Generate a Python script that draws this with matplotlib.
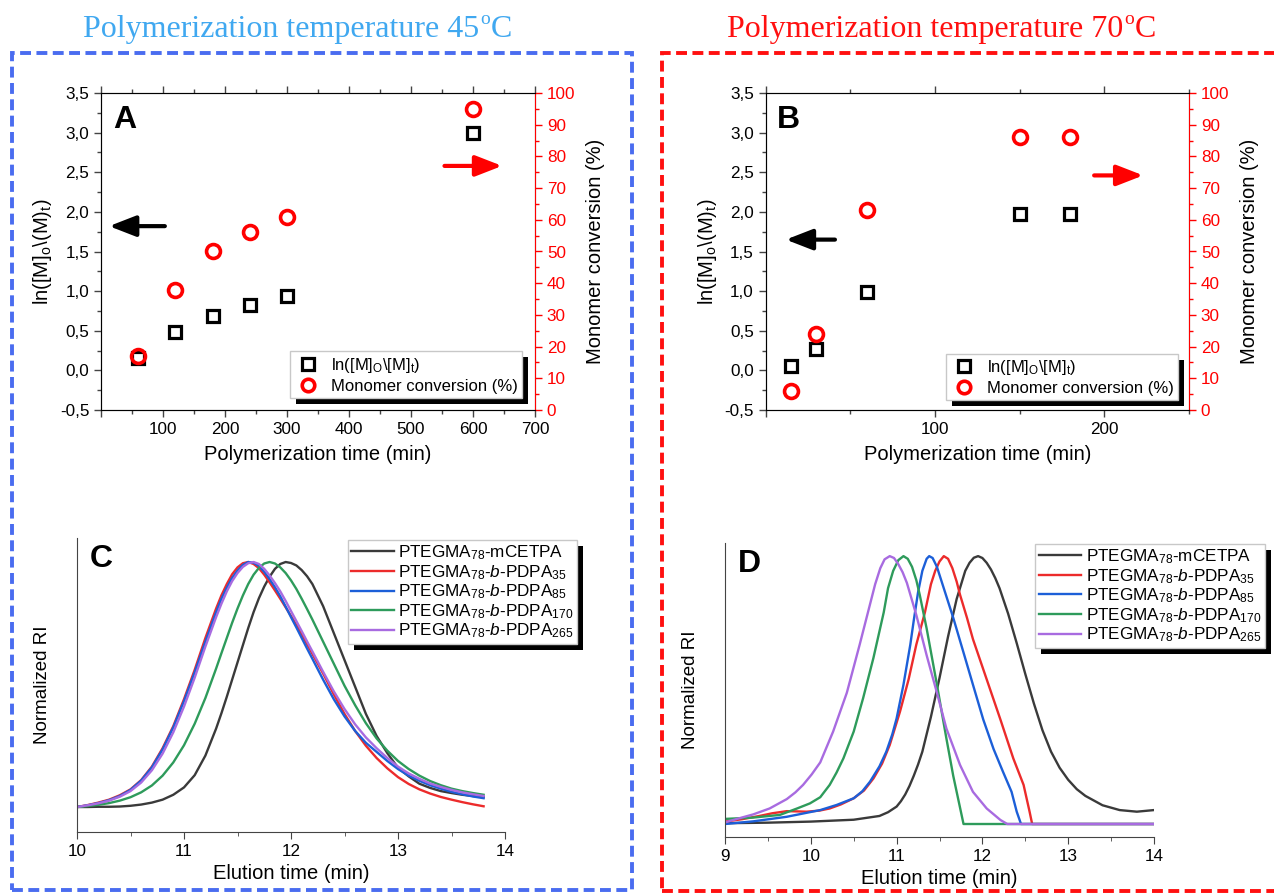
import matplotlib
matplotlib.use('Agg')
import matplotlib.pyplot as plt
from matplotlib.patches import Rectangle
from matplotlib.transforms import IdentityTransform
from matplotlib.ticker import MultipleLocator, FuncFormatter
from matplotlib.lines import Line2D

plt.rcParams['font.family'] = ['Liberation Sans', 'DejaVu Sans']
plt.rcParams['mathtext.fontset'] = 'custom'
plt.rcParams['mathtext.rm'] = 'Liberation Sans'
plt.rcParams['mathtext.it'] = 'Liberation Sans:italic'
plt.rcParams['mathtext.bf'] = 'Liberation Sans:bold'

# ---- panel A (45 C kinetics) ----
time_a = [60, 120, 180, 240, 300, 600]
ln_a = [0.15, 0.48, 0.69, 0.82, 0.94, 3.0]
conv_a = [17, 38, 50, 56, 61, 95]

# ---- panel B (70 C kinetics) ----
time_b = [15, 30, 60, 150, 180]
ln_b = [0.06, 0.27, 0.99, 1.97, 1.97]
conv_b = [6, 24, 63, 86, 86]

# ---- panel C (GPC traces, 45 C) ----
elu_c = [10.0, 10.1, 10.2, 10.3, 10.4, 10.5, 10.6, 10.7, 10.8, 10.9,
         11.0, 11.1, 11.2, 11.3, 11.35, 11.4, 11.45, 11.5, 11.55, 11.6,
         11.65, 11.7, 11.75, 11.8, 11.85, 11.9, 11.95, 12.0, 12.05, 12.1,
         12.15, 12.2, 12.3, 12.4, 12.5, 12.6, 12.7, 12.8, 12.9, 13.0,
         13.1, 13.2, 13.3, 13.4, 13.5, 13.6, 13.7, 13.8]
ri_c_macro = [0.000, 0.000, 0.001, 0.001, 0.002, 0.005, 0.010, 0.018, 0.030, 0.050,
              0.080, 0.130, 0.210, 0.320, 0.383, 0.450, 0.520, 0.590, 0.660, 0.730,
              0.795, 0.852, 0.900, 0.940, 0.972, 0.992, 1.000, 0.996, 0.986, 0.967,
              0.942, 0.910, 0.820, 0.710, 0.600, 0.490, 0.380, 0.290, 0.220, 0.160,
              0.125, 0.095, 0.078, 0.065, 0.057, 0.050, 0.045, 0.040]
ri_c_35 = [0.000, 0.008, 0.018, 0.030, 0.048, 0.072, 0.110, 0.165, 0.240, 0.330,
           0.440, 0.560, 0.690, 0.810, 0.864, 0.910, 0.950, 0.978, 0.995, 1.000,
           0.992, 0.975, 0.948, 0.917, 0.884, 0.850, 0.815, 0.780, 0.743, 0.705,
           0.665, 0.625, 0.545, 0.460, 0.380, 0.310, 0.250, 0.200, 0.158, 0.122,
           0.094, 0.072, 0.055, 0.041, 0.030, 0.020, 0.011, 0.003]
ri_c_85 = [0.000, 0.007, 0.016, 0.028, 0.045, 0.070, 0.108, 0.162, 0.235, 0.325,
           0.432, 0.550, 0.675, 0.795, 0.850, 0.895, 0.935, 0.965, 0.988, 1.000,
           0.997, 0.984, 0.960, 0.930, 0.897, 0.860, 0.818, 0.775, 0.733, 0.690,
           0.647, 0.605, 0.520, 0.440, 0.370, 0.310, 0.262, 0.225, 0.188, 0.155,
           0.128, 0.107, 0.089, 0.075, 0.062, 0.052, 0.043, 0.036]
ri_c_170 = [0.000, 0.004, 0.009, 0.016, 0.026, 0.040, 0.060, 0.088, 0.128, 0.182,
            0.252, 0.340, 0.445, 0.565, 0.628, 0.690, 0.752, 0.810, 0.863, 0.910,
            0.948, 0.976, 0.994, 1.000, 0.994, 0.978, 0.955, 0.925, 0.890, 0.850,
            0.808, 0.765, 0.675, 0.585, 0.495, 0.415, 0.342, 0.280, 0.230, 0.188,
            0.155, 0.128, 0.106, 0.089, 0.075, 0.065, 0.057, 0.050]
ri_c_265 = [0.000, 0.007, 0.015, 0.026, 0.042, 0.065, 0.100, 0.150, 0.218, 0.305,
            0.410, 0.528, 0.655, 0.775, 0.830, 0.880, 0.922, 0.955, 0.980, 0.995,
            1.000, 0.992, 0.972, 0.945, 0.914, 0.880, 0.841, 0.800, 0.759, 0.718,
            0.676, 0.635, 0.552, 0.472, 0.400, 0.337, 0.284, 0.240, 0.200, 0.165,
            0.137, 0.115, 0.096, 0.082, 0.070, 0.060, 0.052, 0.045]

# ---- panel D (GPC traces, 70 C) ----
elu_d_macro = [9.0, 9.5, 10.0, 10.5, 10.8, 10.9, 11.0, 11.05, 11.1, 11.15, 11.2,
               11.25, 11.3, 11.4, 11.5, 11.6, 11.7, 11.8, 11.85, 11.9, 11.95, 12.0,
               12.05, 12.1, 12.15, 12.2, 12.3, 12.4, 12.5, 12.6, 12.7, 12.8, 12.9,
               13.0, 13.1, 13.2, 13.4, 13.6, 13.8, 14.0]
ri_d_macro = [0.003, 0.005, 0.009, 0.016, 0.030, 0.044, 0.065, 0.085, 0.110, 0.142,
              0.180, 0.222, 0.270, 0.400, 0.545, 0.700, 0.840, 0.945, 0.975, 0.994,
              1.000, 0.993, 0.975, 0.950, 0.918, 0.880, 0.785, 0.675, 0.560, 0.450,
              0.350, 0.270, 0.210, 0.165, 0.130, 0.105, 0.070, 0.052, 0.046, 0.052]
elu_d_35 = [9.0, 9.2, 9.4, 9.55, 9.72, 9.85, 9.95, 10.1, 10.22, 10.35, 10.5, 10.62,
            10.73, 10.83, 10.92, 11.04, 11.14, 11.23, 11.33, 11.40, 11.45, 11.50,
            11.55, 11.60, 11.65, 11.70, 11.74, 11.82, 11.89, 12.05, 12.21, 12.36,
            12.48, 12.55, 12.58, 14.0]
ri_d_35 = [0.009, 0.018, 0.030, 0.040, 0.048, 0.047, 0.046, 0.050, 0.058, 0.073,
           0.096, 0.125, 0.170, 0.225, 0.295, 0.420, 0.540, 0.670, 0.790, 0.895,
           0.945, 0.980, 1.000, 0.990, 0.955, 0.905, 0.855, 0.770, 0.690, 0.540,
           0.390, 0.245, 0.146, 0.046, 0.0, 0.0]
elu_d_85 = [9.0, 9.33, 9.72, 10.11, 10.30, 10.50, 10.6, 10.69, 10.8, 10.88, 10.95,
            11.0, 11.08, 11.16, 11.2, 11.25, 11.3, 11.35, 11.38, 11.42, 11.47,
            11.54, 11.66, 11.78, 11.89, 12.01, 12.13, 12.24, 12.34, 12.40, 12.45,
            14.0]
ri_d_85 = [0.0, 0.010, 0.027, 0.052, 0.071, 0.096, 0.122, 0.158, 0.215, 0.270,
           0.335, 0.394, 0.520, 0.670, 0.760, 0.865, 0.945, 0.990, 1.000, 0.993,
           0.960, 0.890, 0.770, 0.640, 0.520, 0.390, 0.280, 0.195, 0.120, 0.046,
           0.0, 0.0]
elu_d_170 = [9.0, 9.33, 9.64, 9.84, 9.99, 10.11, 10.22, 10.3, 10.38, 10.50, 10.61,
             10.73, 10.85, 10.90, 10.96, 11.02, 11.08, 11.13, 11.18, 11.23, 11.27,
             11.35, 11.47, 11.58, 11.66, 11.78, 14.0]
ri_d_170 = [0.019, 0.024, 0.034, 0.058, 0.077, 0.100, 0.146, 0.192, 0.245, 0.345,
            0.470, 0.620, 0.790, 0.880, 0.945, 0.985, 1.000, 0.990, 0.960, 0.910,
            0.855, 0.730, 0.520, 0.320, 0.180, 0.0, 0.0]
elu_d_265 = [9.0, 9.15, 9.33, 9.52, 9.72, 9.82, 9.91, 10.01, 10.11, 10.26, 10.42,
             10.57, 10.69, 10.75, 10.81, 10.86, 10.92, 10.97, 11.02, 11.07, 11.12,
             11.23, 11.35, 11.47, 11.58, 11.74, 11.89, 12.05, 12.21, 12.29, 14.0]
ri_d_265 = [0.006, 0.020, 0.036, 0.058, 0.093, 0.118, 0.146, 0.185, 0.230, 0.345,
            0.490, 0.670, 0.820, 0.895, 0.955, 0.988, 1.000, 0.993, 0.970, 0.940,
            0.900, 0.780, 0.630, 0.490, 0.357, 0.220, 0.120, 0.058, 0.015, 0.0, 0.0]

gpc_labels = ['PTEGMA$_{78}$-mCETPA',
              'PTEGMA$_{78}$-$b$-PDPA$_{35}$',
              'PTEGMA$_{78}$-$b$-PDPA$_{85}$',
              'PTEGMA$_{78}$-$b$-PDPA$_{170}$',
              'PTEGMA$_{78}$-$b$-PDPA$_{265}$']
gpc_colors = ['#3a3a3a', '#ec2b2b', '#1c5fd8', '#2e9b5b', '#a86be0']

W, H = 1274, 893
fig = plt.figure(figsize=(W / 100, H / 100), dpi=100)


def px_axes(l, t, r, b):
    return fig.add_axes([l / W, (H - b) / H, (r - l) / W, (b - t) / H])


comma = FuncFormatter(lambda v, p: f'{v:.1f}'.replace('.', ','))
spine_grey = '#444444'
arrow_style = '-|>,head_length=0.9,head_width=0.35'


def kinetics_panel(ax, t, lnv, conv, xmax, xmajor, letter, leg_anchor,
                   black_arrow, red_arrow):
    ax.plot(t, lnv, ls='none', marker='s', ms=8.5, mfc='none', mec='black',
            mew=2.3, clip_on=False)
    ax.set_xlim(0, xmax)
    ax.set_ylim(-0.5, 3.5)
    ax.xaxis.set_major_locator(MultipleLocator(xmajor))
    ax.xaxis.set_minor_locator(MultipleLocator(xmajor / 2))
    ax.xaxis.set_major_formatter(FuncFormatter(
        lambda v, p: '' if v == 0 else f'{v:.0f}'))
    ax.yaxis.set_major_locator(MultipleLocator(0.5))
    ax.yaxis.set_minor_locator(MultipleLocator(0.25))
    ax.yaxis.set_major_formatter(comma)
    ax.tick_params(which='both', direction='out', top=True, labelsize=12.3,
                   color=spine_grey)
    ax.tick_params(which='major', length=5, width=1)
    ax.tick_params(which='minor', length=3, width=1)
    for s in ax.spines.values():
        s.set_color(spine_grey)
    ax.set_xlabel('Polymerization time (min)', fontsize=14.5, labelpad=6)
    ax.set_ylabel('ln([M]$_\\mathrm{o}$\\(M)$_\\mathrm{t}$)', fontsize=14.5,
                  labelpad=4)
    ax.text(0.028, 0.915, letter, transform=ax.transAxes, fontsize=23,
            fontweight='bold', va='center', ha='left')
    ax.annotate('', xy=(black_arrow[0], black_arrow[2]),
                xytext=(black_arrow[1], black_arrow[2]),
                arrowprops=dict(arrowstyle=arrow_style, lw=3, color='black',
                                shrinkA=0, shrinkB=0, mutation_scale=18))

    ax2 = ax.twinx()
    ax2.plot(t, conv, ls='none', marker='o', ms=10, mfc='none', mec='#ff0000',
             mew=2.6, clip_on=False)
    ax2.set_ylim(0, 100)
    ax2.yaxis.set_major_locator(MultipleLocator(10))
    ax2.yaxis.set_minor_locator(MultipleLocator(5))
    ax2.tick_params(which='both', direction='out', colors='#ff0000',
                    labelsize=12.3)
    ax2.tick_params(which='major', length=5, width=1)
    ax2.tick_params(which='minor', length=3, width=1)
    ax2.spines['right'].set_color('#ff0000')
    ax2.set_ylabel('Monomer conversion (%)', fontsize=14.5, labelpad=8)
    ax2.annotate('', xy=(red_arrow[1], red_arrow[2]),
                 xytext=(red_arrow[0], red_arrow[2]),
                 arrowprops=dict(arrowstyle=arrow_style, lw=3, color='#ff0000',
                                 shrinkA=0, shrinkB=0, mutation_scale=18))

    handles = [Line2D([], [], ls='none', marker='s', ms=8, mfc='none', mec='black', mew=2.3),
               Line2D([], [], ls='none', marker='o', ms=9, mfc='none', mec='#ff0000', mew=2.6)]
    leg = ax2.legend(handles, ['ln([M]$_\\mathrm{O}$\\[M]$_\\mathrm{t}$)',
                               'Monomer conversion (%)'],
                     loc='lower right', bbox_to_anchor=leg_anchor, fontsize=12,
                     frameon=True, fancybox=False, edgecolor='#c8c8c8',
                     framealpha=1, borderpad=0.25, labelspacing=0.25,
                     handletextpad=0.6, borderaxespad=0, handlelength=1.6)
    leg.set_zorder(6)
    return ax2, leg


def gpc_panel(ax, curves, xmin, xmax, ylim, letter, leg_anchor):
    for (x, y), lab, col in zip(curves, gpc_labels, gpc_colors):
        ax.plot(x, y, color=col, lw=1.7, label=lab, solid_joinstyle='round')
    ax.set_xlim(xmin, xmax)
    ax.set_ylim(*ylim)
    ax.set_yticks([])
    ax.xaxis.set_major_locator(MultipleLocator(1))
    ax.xaxis.set_minor_locator(MultipleLocator(0.5))
    ax.tick_params(which='both', direction='out', labelsize=12.3, color=spine_grey)
    ax.tick_params(which='major', length=5)
    ax.tick_params(which='minor', length=3)
    for side in ['top', 'right']:
        ax.spines[side].set_visible(False)
    for side in ['left', 'bottom']:
        ax.spines[side].set_color(spine_grey)
    ax.set_xlabel('Elution time (min)', fontsize=14.5, labelpad=4)
    ax.set_ylabel('Normalized RI', fontsize=13.5, labelpad=19)
    ax.text(0.03, 0.93, letter, transform=ax.transAxes, fontsize=23,
            fontweight='bold', va='center', ha='left')
    leg = ax.legend(loc='upper left', bbox_to_anchor=leg_anchor, fontsize=12.3,
                    frameon=True, fancybox=False, edgecolor='#c8c8c8',
                    framealpha=1, borderpad=0.2, labelspacing=0.05,
                    handletextpad=0.25, borderaxespad=0, handlelength=2.5)
    leg.set_zorder(6)
    return leg


axA = px_axes(101, 93, 535, 410)
axA2, legA = kinetics_panel(axA, time_a, ln_a, conv_a, 700, 100, 'A',
                            (0.97, 0.038), (13, 103, 1.82), (554, 647, 77))
axB = px_axes(765.5, 93, 1189, 410)
axB2, legB = kinetics_panel(axB, time_b, ln_b, conv_b, 250, 100, 'B',
                            (0.974, 0.03), (12, 41, 1.65), (194, 223, 74))
axB.xaxis.set_minor_locator(MultipleLocator(50))

axC = px_axes(77, 538, 505, 832)
curves_c = [(elu_c, ri_c_macro), (elu_c, ri_c_35), (elu_c, ri_c_85),
            (elu_c, ri_c_170), (elu_c, ri_c_265)]
legC = gpc_panel(axC, curves_c, 10, 14, (-0.102, 1.098), 'C', (0.633, 0.993))

axD = px_axes(725, 543, 1154, 837)
curves_d = [(elu_d_macro, ri_d_macro), (elu_d_35, ri_d_35), (elu_d_85, ri_d_85),
            (elu_d_170, ri_d_170), (elu_d_265, ri_d_265)]
legD = gpc_panel(axD, curves_d, 9, 14, (-0.0485, 1.049), 'D', (0.723, 0.997))

# dashed frames
fig.add_artist(Rectangle((12 / W, (H - 890) / H), 620 / W, 837 / H,
                         transform=fig.transFigure, fill=False,
                         edgecolor='#4a6cf0', lw=2.8, ls=(0, (2.8, 1.4))))
fig.add_artist(Rectangle((662 / W, (H - 891) / H), 640 / W, 838 / H,
                         transform=fig.transFigure, fill=False,
                         edgecolor='#ff1010', lw=2.8, ls=(0, (2.8, 1.4))))

# titles: main text, then a small raised "o", then "C"
titles = [(83, 'Polymerization temperature 45', '#40a8f0'),
          (727, 'Polymerization temperature 70', '#ff1010')]
title_base = 37
title_texts = []
for x0, txt, col in titles:
    t = fig.text(x0 / W, (H - title_base) / H, txt, family='Liberation Serif',
                 fontsize=23, color=col, ha='left', va='baseline')
    title_texts.append((t, col))

fig.canvas.draw()
renderer = fig.canvas.get_renderer()
for t, col in title_texts:
    bb = t.get_window_extent(renderer)
    o = fig.text((bb.x1 + 1) / W, (H - title_base + 13) / H, 'o',
                 family='Liberation Serif', fontsize=14, color=col,
                 ha='left', va='baseline')
    ob = o.get_window_extent(renderer)
    fig.text((ob.x1 + 1) / W, (H - title_base) / H, 'C',
             family='Liberation Serif', fontsize=23, color=col,
             ha='left', va='baseline')

# black drop shadows behind the legends
for ax, leg in [(axA2, legA), (axB2, legB), (axC, legC), (axD, legD)]:
    bb = leg.get_window_extent(renderer)
    ax.add_artist(Rectangle((bb.x0 + 6, bb.y0 - 6), bb.width, bb.height,
                            transform=IdentityTransform(), facecolor='black',
                            edgecolor='none', zorder=5.5, clip_on=False))

fig.savefig('out.png', dpi=100)
